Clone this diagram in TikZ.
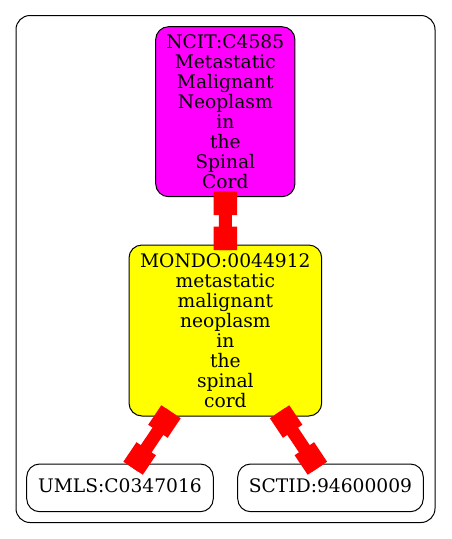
\documentclass[tikz,border=0pt]{standalone}
\usepackage{fontspec}
\setmainfont{DejaVu Serif}
\usetikzlibrary{calc}
\definecolor{gvmag}{RGB}{255,0,255}
\definecolor{gvyellow}{RGB}{255,255,0}
\definecolor{gvred}{RGB}{255,0,0}
\begin{document}
\begin{tikzpicture}[x=1pt,y=-1pt,
  gnode/.style={draw=black, line width=1pt, rounded corners=13pt, align=center, inner sep=0pt, font=\fontsize{18.67}{20}\selectfont},
  leaf/.style={gnode, minimum height=47.7pt, text height=14pt, text depth=4pt},
  shaft/.style={draw=gvred, line width=13pt},
  boxhead/.style={draw=gvred, line width=23.4pt}]
\useasboundingbox (0,0) rectangle (451,539);
\draw[line width=1pt, rounded corners=14pt] (16,15.5) rectangle (435,522.5);
\node[gnode, fill=gvmag, minimum width=139.3pt, minimum height=170pt] (ncit) at (225.3,111.7)
  {NCIT:C4585\\Metastatic\\Malignant\\Neoplasm\\in\\the\\Spinal\\Cord};
\node[gnode, fill=gvyellow, minimum width=192.7pt, minimum height=171pt] (mondo) at (225.35,330.5)
  {MONDO:0044912\\metastatic\\malignant\\neoplasm\\in\\the\\spinal\\cord};
\node[leaf, minimum width=186.6pt] (umls) at (120,487.85) {UMLS:C0347016};
\node[leaf, minimum width=185.6pt] (sctid) at (330.5,487.85) {SCTID:94600009};
\foreach \u/\v in {ncit/mondo, mondo/umls, mondo/sctid} {
  \path (\u) -- (\v) coordinate[pos=0] (a) coordinate[pos=1] (b);
  \coordinate (s) at ($(a)!-5.7pt!(b)$);
  \coordinate (e) at ($(b)!-5.7pt!(a)$);
  \draw[shaft] (s) -- (e);
  \draw[boxhead] (s) -- ($(s)!23.5pt!(e)$);
  \draw[boxhead] (e) -- ($(e)!23.5pt!(s)$);
}
\end{tikzpicture}
\end{document}
